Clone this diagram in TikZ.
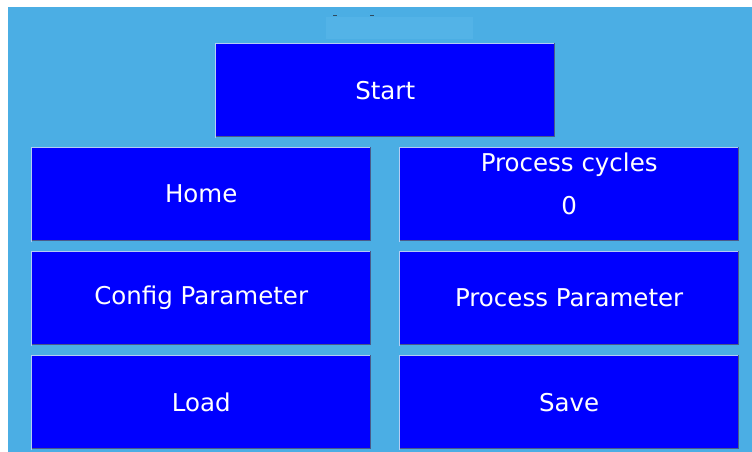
\documentclass[tikz,border=0pt]{standalone}
\usepackage{fontspec}
\setmainfont{DejaVu Sans}
\definecolor{panel}{HTML}{4BAEE4}
\definecolor{panelhi}{HTML}{53B3E7}
\definecolor{btnblue}{HTML}{0000FF}
\definecolor{bevello}{HTML}{B4CCF4}
\definecolor{bevelsh}{HTML}{4A5A8A}
\definecolor{tick}{HTML}{2F4A5E}
\begin{document}
\begin{tikzpicture}[x=1pt,y=-1pt,
  lbl/.style={text=white, font=\fontsize{24.5}{43}\selectfont, align=center, inner sep=0pt},
  btn/.style={lbl, fill=btnblue, minimum width=340pt, minimum height=94pt, anchor=north west},
  hilite/.style={draw=bevello, line width=1pt},
  shade/.style={draw=bevelsh, line width=1.6pt}]
\useasboundingbox (0,0) rectangle (752,452);
\fill[white] (0,0) rectangle (752,452);
\fill[panel] (8,7) rectangle (752,452);
% title strip
\fill[panelhi] (326,17) rectangle (473,39);
\fill[tick] (333,15.5) rectangle (337,16.5);
\fill[tick] (370,15.5) rectangle (374,16.5);
% buttons
\node[btn] (start) at (215,43) {Start};
\node[btn] (home) at (31,147) {Home};
\node[btn] (cycles) at (399,147) {};
\node[lbl] (cyclestext) at ([yshift=10pt]cycles.center) {Process cycles\\0};
\node[btn] (config) at (31,251) {Config Parameter};
\node[btn] (process) at (399,251) {Process Parameter};
\node[btn] (load) at (31,355) {Load};
\node[btn] (save) at (399,355) {Save};
% bevel edges
\foreach \b in {start,home,cycles,config,process,load,save}{
  \draw[shade] ([xshift=-0.8pt]\b.north east) -- ([xshift=-0.8pt,yshift=0.8pt]\b.south east) -- ([yshift=0.8pt]\b.south west);
  \draw[hilite] ([xshift=0.5pt,yshift=-1pt]\b.south west) -- ([xshift=0.5pt,yshift=-0.5pt]\b.north west) -- ([xshift=-1.6pt,yshift=-0.5pt]\b.north east);
}
\end{tikzpicture}
\end{document}
